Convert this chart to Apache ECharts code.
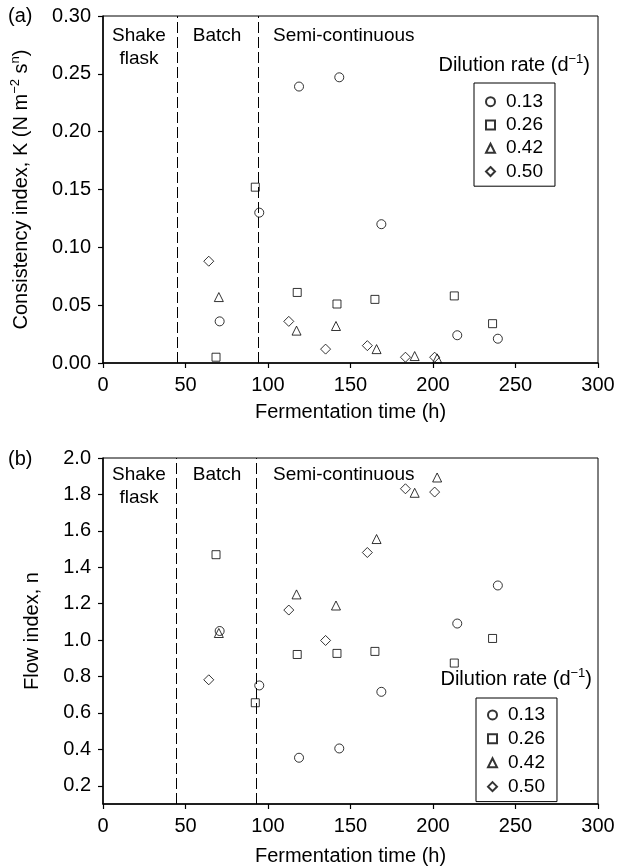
<!DOCTYPE html>
<html><head><meta charset="utf-8">
<script src="https://cdn.jsdelivr.net/npm/echarts@6/dist/echarts.min.js"></script>
<style>html,body{margin:0;padding:0;background:#fff}#c{width:618px;height:867px}</style>
</head><body><div id="c"></div>
<script>
// ---- data ----
const rates = ['0.13', '0.26', '0.42', '0.50'];
const symbols = ['circle', 'rect', 'triangle', 'diamond'];
const time013 = [70.7, 94.7, 118.8, 143.2, 168.7, 214.7, 239.3];
const time026 = [68.5, 92.3, 117.7, 141.8, 164.8, 212.9, 236.1];
const time042 = [70.2, 117.3, 141.2, 165.8, 188.9, 202.5];
const time050 = [64.1, 112.6, 134.9, 160.2, 183.3, 201.0];
// (a) consistency index K
const K013 = [0.036, 0.130, 0.239, 0.247, 0.120, 0.024, 0.021];
const K026 = [0.005, 0.152, 0.061, 0.051, 0.055, 0.058, 0.034];
const K042 = [0.057, 0.028, 0.032, 0.012, 0.006, 0.004];
const K050 = [0.088, 0.036, 0.012, 0.015, 0.005, 0.005];
// (b) flow index n
const n013 = [1.05, 0.751, 0.354, 0.405, 0.716, 1.091, 1.30];
const n026 = [1.469, 0.656, 0.921, 0.927, 0.938, 0.874, 1.009];
const n042 = [1.039, 1.251, 1.19, 1.555, 1.809, 1.893];
const n050 = [0.782, 1.165, 0.998, 1.481, 1.831, 1.813];
// phase boundaries (h)
const phaseBoundA = [45, 93.8];
const phaseBoundB = [44.2, 92.8];
// tick labels
const nTicks = [0.2, 0.4, 0.6, 0.8, 1.0, 1.2, 1.4, 1.6, 1.8, 2.0];

const times = [time013, time026, time042, time050];
const Kvals = [K013, K026, K042, K050];
const nvals = [n013, n026, n042, n050];
const symSizes = [9, 8, 9, 10];

const FONT = 'Liberation Sans, Arial, Helvetica, sans-serif';
const FS = 19;
const TFS = 20;

function zip(t, v) { return t.map((x, i) => [x, v[i]]); }

const series = [];
[Kvals, nvals].forEach((vals, g) => {
  rates.forEach((r, i) => {
    const s = {
      type: 'scatter', name: r, xAxisIndex: g, yAxisIndex: g,
      symbol: symbols[i], symbolSize: symSizes[i],
      data: zip(times[i], vals[i]),
      itemStyle: { color: 'rgba(255,255,255,0)', borderColor: '#000', borderWidth: 1 },
      emphasis: { disabled: true }, silent: true, animation: false
    };
    if (i === 0) {
      const b = g === 0 ? phaseBoundA : phaseBoundB;
      s.markLine = {
        silent: true, symbol: 'none', animation: false,
        label: { show: false },
        lineStyle: { color: '#000', width: 1, type: [11, 4] },
        data: b.map(x => ({ xAxis: x }))
      };
    }
    series.push(s);
  });
});

const axisCommon = {
  axisLine: { lineStyle: { color: '#000', width: 1.5 } },
  axisTick: { inside: false, length: 5, lineStyle: { color: '#000', width: 1.2 } },
  splitLine: { show: false },
  nameTextStyle: { color: '#000', fontFamily: FONT, fontSize: 20 }
};
const labelCommon = { color: '#000', fontFamily: FONT, fontSize: TFS };

function xAxis(g) {
  return Object.assign({}, axisCommon, {
    type: 'value', gridIndex: g, min: 0, max: 300, interval: 50,
    name: 'Fermentation time (h)', nameLocation: 'middle', nameGap: g === 0 ? 39 : 42,
    axisLabel: Object.assign({ margin: 12 }, labelCommon)
  });
}

const supStyle = { fontFamily: FONT, fontSize: 13, verticalAlign: 'top', lineHeight: 12, color: '#000' };
const baseStyle = { fontFamily: FONT, fontSize: 20, lineHeight: 24, color: '#000' };

function legendCfg(left, top, lh, padTop) {
  return {
    data: rates, orient: 'vertical', left: left, top: top,
    itemWidth: 9, itemHeight: 9, itemGap: 0,
    padding: [padTop, 12, 3, 11],
    borderColor: '#000', borderWidth: 1, selectedMode: false,
    textStyle: { color: '#000', fontFamily: FONT, fontSize: FS, lineHeight: lh, padding: [0, 0, 0, 6] }
  };
}

const txt = (x, y, text, align, extra) => ({
  type: 'text', x: x, y: y,
  style: Object.assign({ text: text, font: FS + 'px ' + FONT, fill: '#000', align: align, verticalAlign: 'middle' }, extra || {})
});

const option = {
  backgroundColor: '#fff',
  animation: false,
  grid: [
    { left: 103, right: 20, top: 16, height: 347, show: true, borderColor: '#000', borderWidth: 1 },
    { left: 103, right: 20, top: 458, height: 346, show: true, borderColor: '#000', borderWidth: 1 }
  ],
  xAxis: [xAxis(0), xAxis(1)],
  yAxis: [
    Object.assign({}, axisCommon, {
      type: 'value', gridIndex: 0, min: 0, max: 0.3, interval: 0.05,
      name: '{b|Consistency index, K (N m}{s|−2}{b| s}{s|n}{b|)}', nameLocation: 'middle', nameGap: 70,
      nameTextStyle: { rich: { b: baseStyle, s: supStyle } },
      axisLabel: Object.assign({ margin: 12, formatter: v => v.toFixed(2) }, labelCommon)
    }),
    Object.assign({}, axisCommon, {
      type: 'value', gridIndex: 1, min: 0.1, max: 2.0,
      name: 'Flow index, n', nameLocation: 'middle', nameGap: 61,
      axisTick: { inside: false, length: 5, lineStyle: { color: '#000', width: 1.2 }, customValues: nTicks },
      axisLabel: Object.assign({ margin: 12, customValues: nTicks, formatter: v => v.toFixed(1) }, labelCommon)
    })
  ],
  legend: [legendCfg(474, 83, 23.3, 7), legendCfg(476, 698, 23.9, 5)],
  graphic: [
    { type: 'text', left: 8, top: 6, style: { text: '(a)', font: '20px ' + FONT, fill: '#000' } },
    { type: 'text', left: 8, top: 449, style: { text: '(b)', font: '20px ' + FONT, fill: '#000' } },
    txt(139, 47.5, 'Shake\nflask', 'center', { lineHeight: 23 }),
    txt(217, 36, 'Batch', 'center'),
    txt(273, 36, 'Semi-continuous', 'left'),
    { type: 'text', x: 590, y: 65, style: { text: '{b|Dilution rate (d}{s|−1}{b|)}', align: 'right', verticalAlign: 'middle', rich: { b: baseStyle, s: supStyle } } },
    txt(139, 486.5, 'Shake\nflask', 'center', { lineHeight: 23 }),
    txt(217, 475, 'Batch', 'center'),
    txt(273, 475, 'Semi-continuous', 'left'),
    { type: 'text', x: 592, y: 679, style: { text: '{b|Dilution rate (d}{s|−1}{b|)}', align: 'right', verticalAlign: 'middle', rich: { b: baseStyle, s: supStyle } } }
  ],
  series: series
};

const chart = echarts.init(document.getElementById('c'), null, { renderer: 'canvas' });
chart.setOption(option);
</script>
</body></html>
